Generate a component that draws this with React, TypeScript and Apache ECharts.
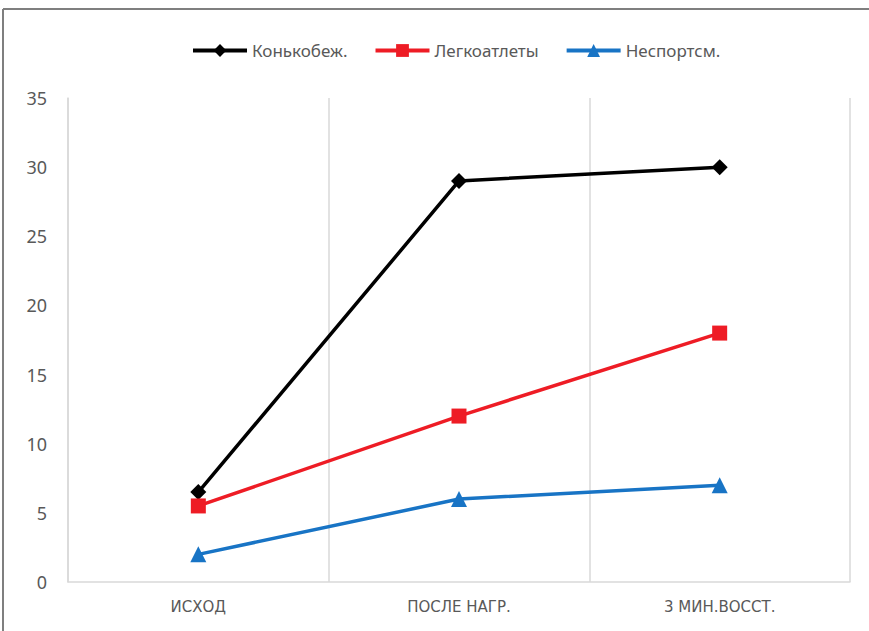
import React, { useEffect, useRef } from "react";
import * as echarts from "echarts";

const categories = ["ИСХОД", "ПОСЛЕ НАГР.", "3 МИН.ВОССТ."];
const skaters = [6.5, 29, 30];
const athletes = [5.5, 12, 18];
const nonSport = [2, 6, 7];
const seriesNames = ["Конькобеж.", "Легкоатлеты", "Неспортсм."];

export default function App() {
  const ref = useRef<HTMLDivElement>(null);
  useEffect(() => {
    const chart = echarts.init(ref.current!, null, { renderer: "svg" });
    const mk = (name: string, data: number[], color: string, symbol: string, size: number) => ({
      name,
      type: "line",
      data,
      symbol,
      symbolSize: size,
      lineStyle: { color, width: 3.5 },
      itemStyle: { color },
      z: 3,
    });
    chart.setOption({
      animation: false,
      backgroundColor: "#ffffff",
      graphic: [
        { type: "line", shape: { x1: 3, y1: 9, x2: 869, y2: 9 }, style: { stroke: "#7f7f7f", lineWidth: 2 } },
        { type: "line", shape: { x1: 3, y1: 9, x2: 3, y2: 631 }, style: { stroke: "#7f7f7f", lineWidth: 2 } },
      ],
      legend: {
        top: 37,
        left: 186,
        itemWidth: 54,
        itemHeight: 16,
        itemGap: 26,
        lineStyle: { width: 4 },
        textStyle: { fontFamily: "Noto Sans", fontSize: 17, color: "#595959" },
        data: seriesNames,
      },
      grid: { left: 68, right: 19, top: 98, bottom: 49, containLabel: false },
      xAxis: {
        type: "category",
        data: categories,
        boundaryGap: true,
        axisLine: { lineStyle: { color: "#d9d9d9", width: 1.5 } },
        axisTick: { show: false },
        splitLine: { show: true, lineStyle: { color: "#d9d9d9", width: 1.5 } },
        axisLabel: { color: "#595959", fontFamily: "DejaVu Sans", fontSize: 15, margin: 17 },
      },
      yAxis: {
        type: "value",
        min: 0,
        max: 35,
        interval: 5,
        axisLine: { show: true, lineStyle: { color: "#d9d9d9", width: 1.5 } },
        axisTick: { show: false },
        splitLine: { show: false },
        axisLabel: { color: "#595959", fontFamily: "Noto Sans", fontSize: 18, margin: 21 },
      },
      series: [
        mk(seriesNames[0], skaters, "#000000", "diamond", 16),
        mk(seriesNames[1], athletes, "#ee1c25", "rect", 15),
        mk(seriesNames[2], nonSport, "#1874c5", "triangle", 16),
      ],
    });
    return () => chart.dispose();
  }, []);
  return (
    <div
      ref={ref}
      style={{ position: "fixed", left: 0, top: 0, width: 869, height: 631 }}
    />
  );
}
